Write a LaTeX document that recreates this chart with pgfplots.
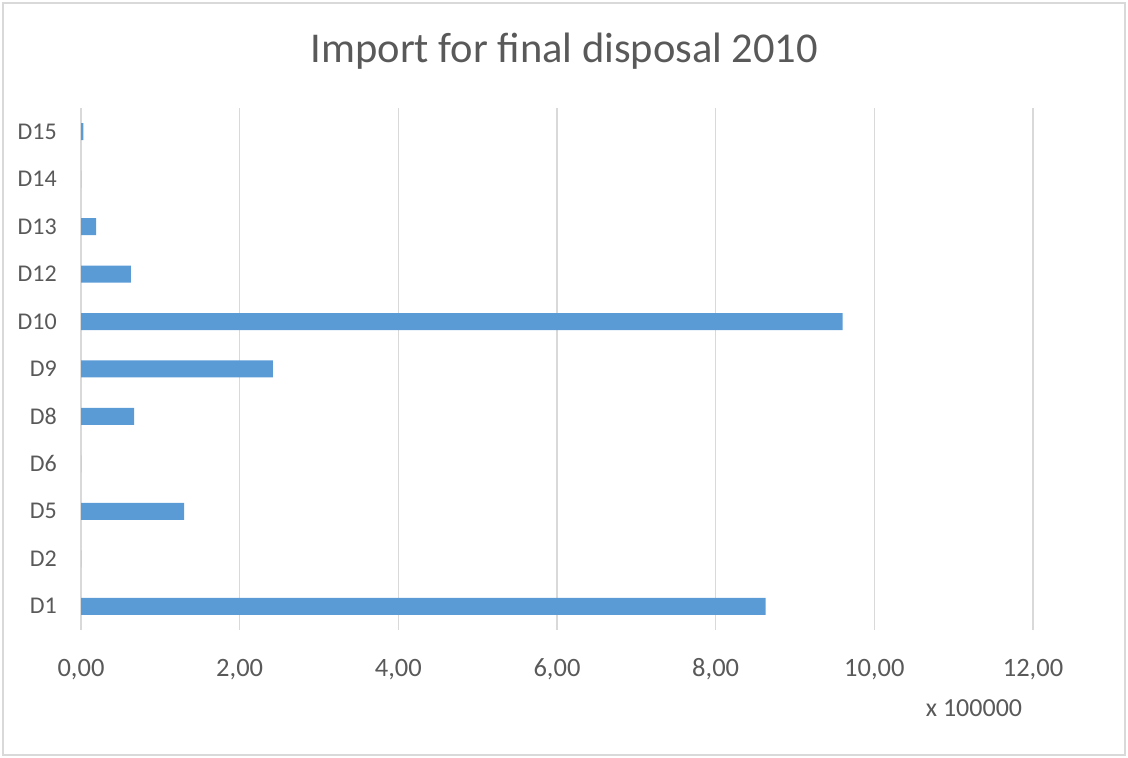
\documentclass[border=0pt]{standalone}
\usepackage{pgfplots}
\pgfplotsset{compat=1.18}
\usepackage{fontspec}
\setmainfont{Carlito}
\definecolor{barblue}{HTML}{5B9BD5}
\definecolor{gridgray}{HTML}{D9D9D9}
\definecolor{textgray}{HTML}{595959}
\begin{document}
\begin{tikzpicture}
  \useasboundingbox (0,0) rectangle (1128bp,758bp);
  % chart frame
  \draw[gridgray, line width=1.5bp] (3bp,3bp) rectangle (1125bp,755bp);
  % title
  \node[anchor=base, text=textgray, font=\fontsize{42.5bp}{50bp}\selectfont]
    at (564.5bp,695bp) {Import for final disposal 2010};
  \begin{axis}[
    at={(81bp,128bp)}, anchor=south west,
    scale only axis, width=952bp, height=522bp,
    xbar, bar width=17bp, bar shift=0pt,
    xmin=0, xmax=12, ymin=-0.5, ymax=10.5,
    xtick={0,2,4,6,8,10,12},
    ytick={0,...,10},
    yticklabels={D1,D2,D5,D6,D8,D9,D10,D12,D13,D14,D15},
    xmajorgrids, major grid style={gridgray, line width=1.6bp},
    axis line style={draw=none},
    major tick length=0pt,
    /pgf/number format/.cd, fixed, fixed zerofill, precision=2, use comma,
      assume math mode=true,
    /pgfplots/.cd,
    xticklabel style={anchor=base, yshift=-46bp, text=textgray,
      font=\fontsize{26.5bp}{31bp}\selectfont},
    yticklabel style={anchor=east, inner sep=0pt, xshift=-24bp, text=textgray,
      font=\fontsize{24bp}{28bp}\selectfont},
  ]
    \addplot[fill=barblue, draw=none] coordinates {
      (8.63,0) (0,1) (1.30,2) (0,3) (0.67,4) (2.42,5)
      (9.60,6) (0.63,7) (0.19,8) (0,9) (0.03,10)
    };
  \end{axis}
  % scale factor of the value axis
  \node[anchor=base, text=textgray, font=\fontsize{26bp}{30bp}\selectfont]
    at (974bp,41bp) {x 100000};
\end{tikzpicture}
\end{document}
